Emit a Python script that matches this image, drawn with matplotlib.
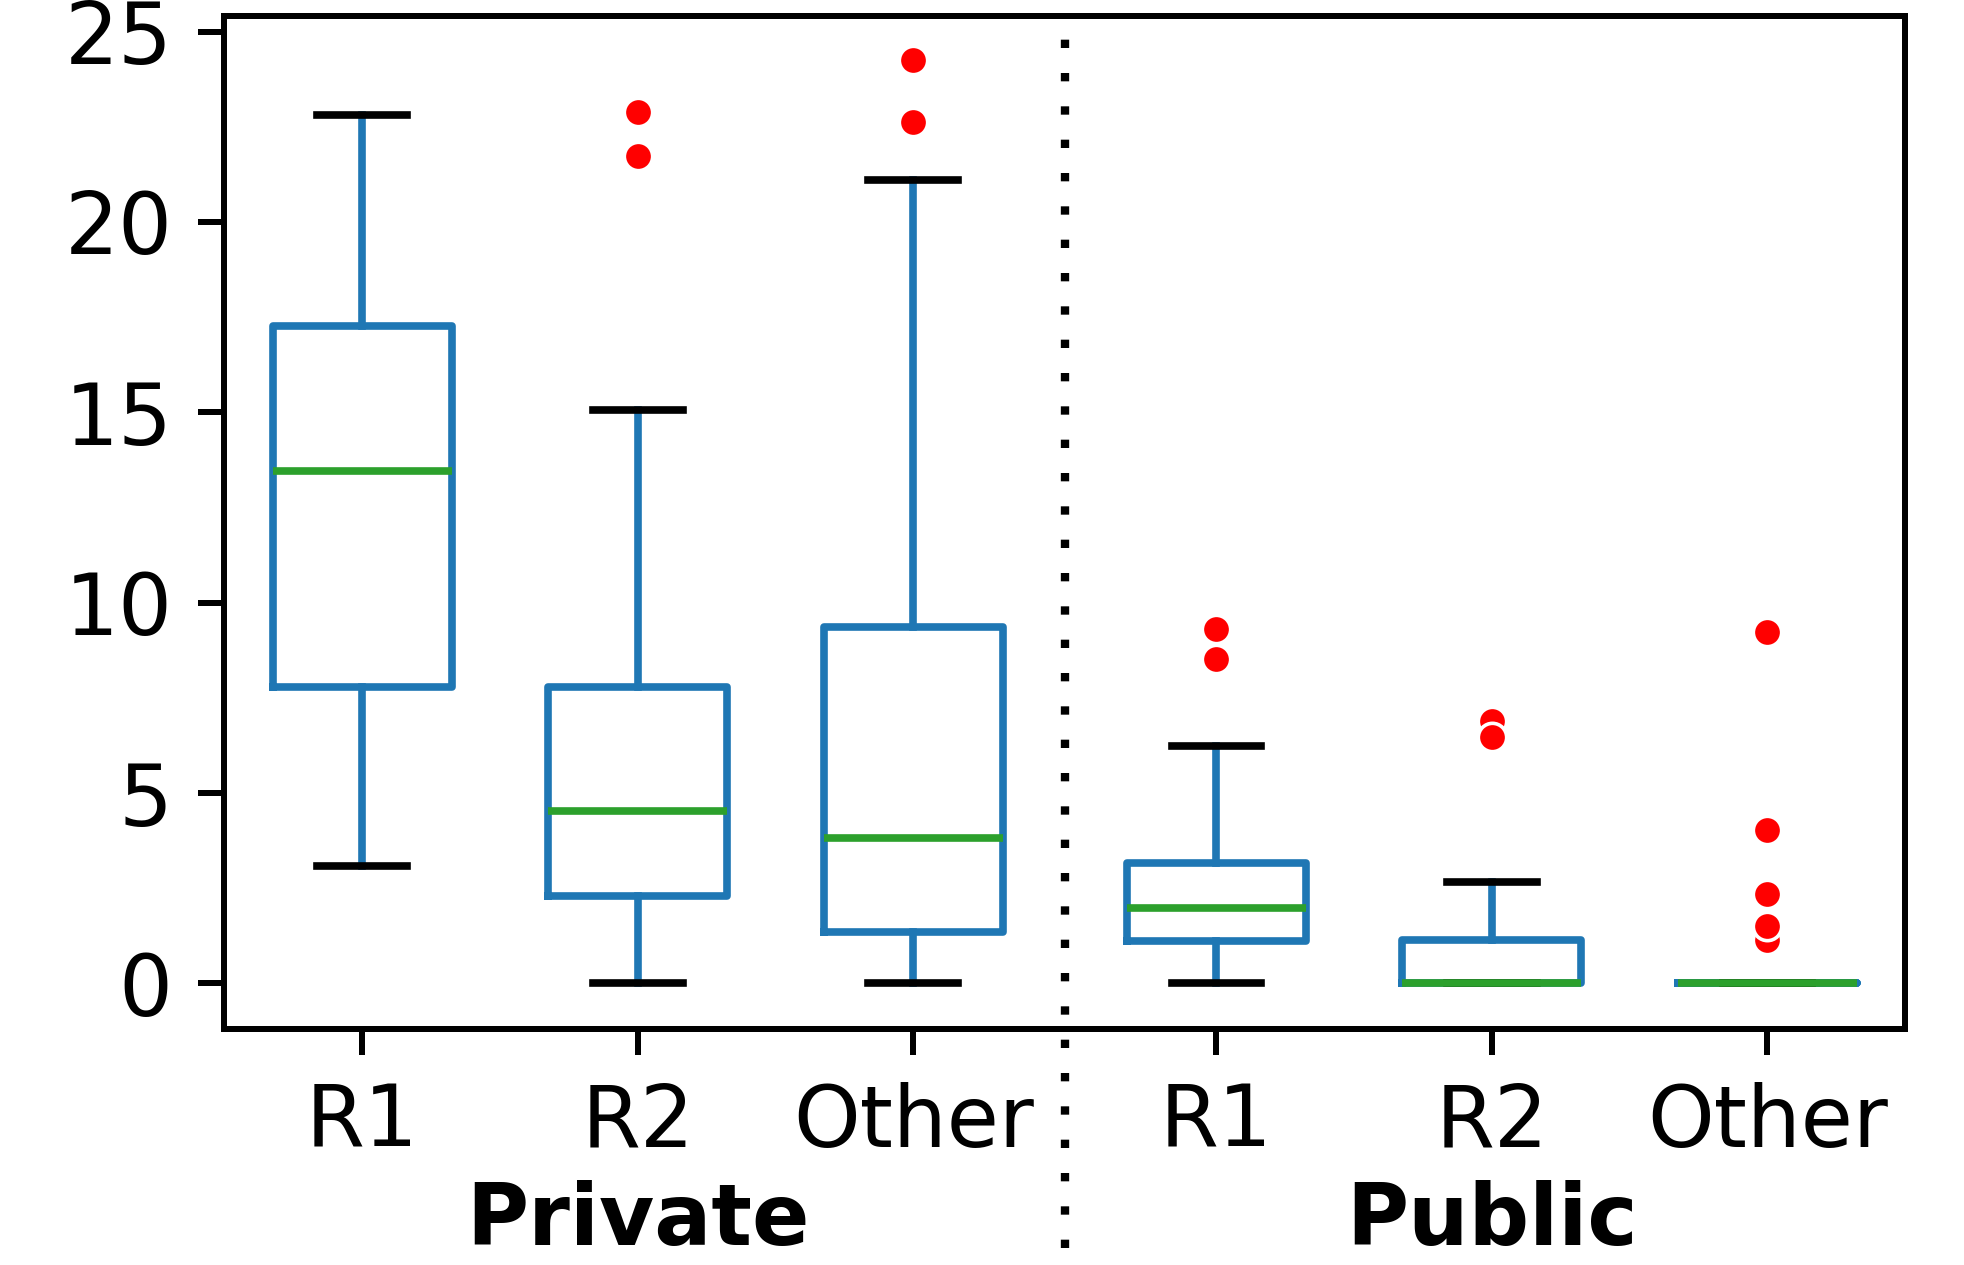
import matplotlib
matplotlib.use('Agg')
import matplotlib.pyplot as plt
import matplotlib.transforms as mtransforms

labels = ['R1', 'R2', 'Other', 'R1', 'R2', 'Other']
positions = [1, 2, 3, 4.1, 5.1, 6.1]
groups = ['Private', 'Public']
group_centers = [2, 5.1]
whislo = [3.09, 0.0, 0.0, 0.0, 0.0, 0.0]
q1 = [7.79, 2.30, 1.34, 1.11, 0.0, 0.0]
med = [13.45, 4.53, 3.81, 1.97, 0.0, 0.0]
q3 = [17.26, 7.79, 9.37, 3.15, 1.14, 0.0]
whishi = [22.82, 15.06, 21.11, 6.24, 2.66, 0.0]
fliers = [
    [],
    [22.89, 21.74],
    [24.24, 22.63],
    [9.32, 8.51],
    [6.89, 6.47],
    [9.22, 4.02, 2.34, 1.14, 1.51],
]

stats = []
for i in range(len(labels)):
    stats.append(dict(whislo=whislo[i], q1=q1[i], med=med[i], q3=q3[i],
                      whishi=whishi[i], fliers=fliers[i], label=labels[i]))

plt.rcParams['font.family'] = 'DejaVu Sans'
plt.rcParams['font.size'] = 30.5

fig = plt.figure(figsize=(9.82, 6.325), dpi=200)
ax = fig.add_axes([0.1143, 0.1862, 0.970 - 0.1143, 0.9874 - 0.1862])

lw = 2.75
ax.bxp(stats, positions=positions, widths=0.65,
       boxprops=dict(color='#1f77b4', linewidth=lw),
       whiskerprops=dict(color='#1f77b4', linewidth=lw),
       capprops=dict(color='black', linewidth=lw),
       medianprops=dict(color='#2ca02c', linewidth=lw),
       flierprops=dict(marker='o', markerfacecolor='red', markeredgecolor='white',
                       markersize=10.2, markeredgewidth=1.3, linestyle='none'))

ax.set_xlim(0.5, 6.6)
ax.set_ylim(-1.21, 25.41)
ax.set_yticks([0, 5, 10, 15, 20, 25])

for s in ax.spines.values():
    s.set_linewidth(2.16)
ax.tick_params(length=9.4, width=2.16, pad=9.4, labelsize=30.5)

# dotted divider between the two groups, running below the axis
trans = mtransforms.blended_transform_factory(ax.transData, ax.transAxes)
ax.plot([3.55, 3.55], [-0.2159, 1.0], transform=trans, clip_on=False,
        color='black', linewidth=3.0, linestyle=(0, (1, 3)))

for name, xc in zip(groups, group_centers):
    ax.text(xc, -0.2126, name, transform=trans, ha='center', va='baseline',
            fontsize=30.5, fontweight='bold')

fig.savefig('out.png', dpi=200)
